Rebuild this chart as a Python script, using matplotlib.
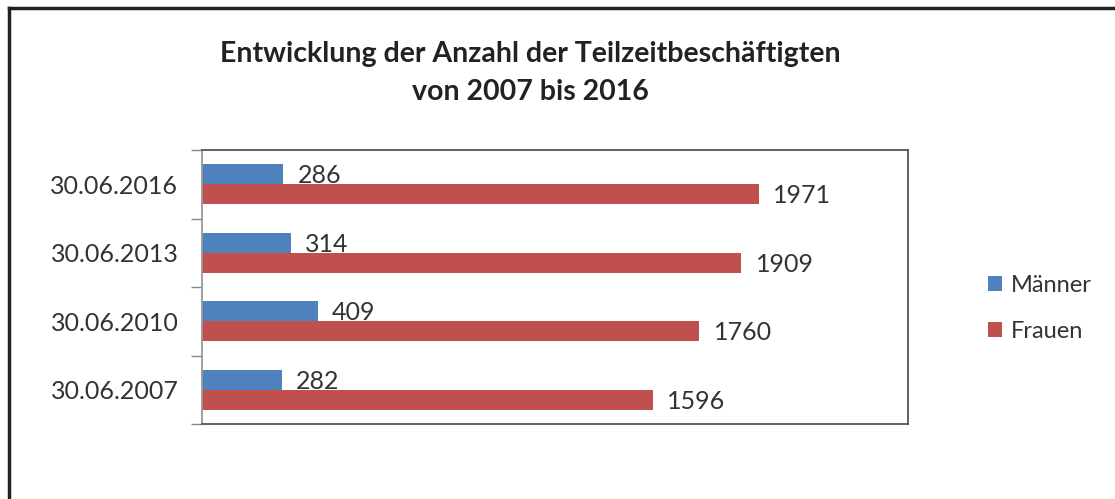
import numpy as np
import matplotlib
matplotlib.use("Agg")
import matplotlib.pyplot as plt
from matplotlib.lines import Line2D

# data (bottom -> top)
dates = ["30.06.2007", "30.06.2010", "30.06.2013", "30.06.2016"]
maenner = [282, 409, 314, 286]
frauen = [1596, 1760, 1909, 1971]

blue = "#4F81BD"
red = "#C0504D"
txt = "#333333"

plt.rcParams['font.family'] = ['Lato', 'DejaVu Sans']

fig = plt.figure(figsize=(11.15, 4.99), dpi=100)
ax = fig.add_axes([202/1115, 1-424/499, (908-202)/1115, (424-150)/499])

y = np.arange(len(dates))
h = 0.29
ax.barh(y + h/2, maenner, height=h, color=blue, label="Männer")
ax.barh(y - h/2, frauen, height=h, color=red, label="Frauen")

for i in range(len(dates)):
    ax.text(maenner[i] + 52, y[i] + h/2 - 0.02, str(maenner[i]), va="center", ha="left",
            fontsize=18, color=txt)
    ax.text(frauen[i] + 52, y[i] - h/2 - 0.02, str(frauen[i]), va="center", ha="left",
            fontsize=18, color=txt)

ax.set_xlim(0, 2500)
ax.set_ylim(-0.5, 3.5)
ax.set_xticks([])
ax.set_yticks(y)
ax.set_yticklabels(dates, fontsize=18, color=txt)
ax.tick_params(axis="y", which="major", length=0, pad=17)
ax.set_yticks(np.arange(-0.5, 3.6, 1), minor=True)
ax.tick_params(axis="y", which="minor", length=8, color="#888888", width=1)
for s in ax.spines.values():
    s.set_color("#555555")
    s.set_linewidth(1.3)
ax.spines["left"].set_color("#999999")

fig.text(0.476, 1-62/499, "Entwicklung der Anzahl der Teilzeitbeschäftigten",
         ha="center", va="baseline", fontsize=20.5, fontweight="bold", color="#222222")
fig.text(0.476, 1-100/499, "von 2007 bis 2016",
         ha="center", va="baseline", fontsize=20.5, fontweight="bold", color="#222222")

fig.legend(loc="upper left", bbox_to_anchor=(967/1115, 1-254/499), frameon=False,
           fontsize=17, handlelength=0.6, handleheight=0.6, handletextpad=0.35,
           labelspacing=1.05, labelcolor=txt)

# outer border (only top and left visible)
fig.add_artist(Line2D([9/1115, 1], [1-8/499, 1-8/499], color="#222222", lw=2.5,
                      transform=fig.transFigure))
fig.add_artist(Line2D([9/1115, 9/1115], [0, 1-8/499], color="#222222", lw=2.5,
                      transform=fig.transFigure))

fig.savefig("out.png", dpi=100, facecolor="white")
